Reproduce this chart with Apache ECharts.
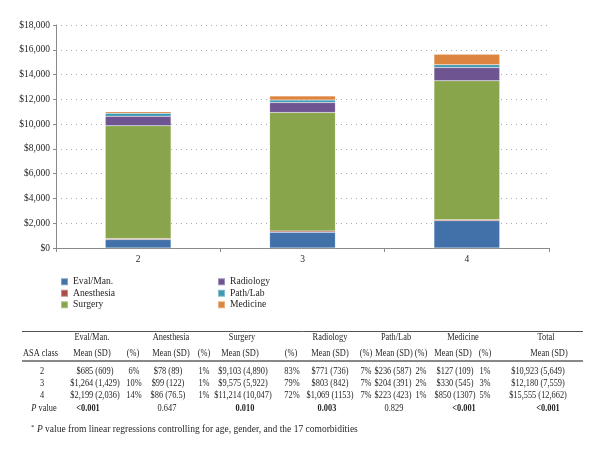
<!DOCTYPE html>
<html>
<head>
<meta charset="utf-8">
<script src="https://cdn.jsdelivr.net/npm/echarts@6/dist/echarts.min.js"></script>
<style>html,body{margin:0;padding:0;background:#fff}#c{width:600px;height:465px}</style>
</head>
<body>
<div id="c"></div>
<script>
// ---- chart data ----
var categories = ['2', '3', '4'];
var evalMan    = [685, 1264, 2199];
var anesthesia = [78, 99, 86];
var surgery    = [9103, 9575, 11214];
var radiology  = [771, 803, 1069];
var pathLab    = [236, 204, 223];
var medicine   = [127, 330, 850];
var yTicks = { min: 0, max: 18000, interval: 2000 };

// ---- table text ----
var tableGroups = ['Eval/Man.', 'Anesthesia', 'Surgery', 'Radiology', 'Path/Lab', 'Medicine', 'Total'];
var tableSub = ['ASA class', 'Mean (SD)', '(%)', 'Mean (SD)', '(%)', 'Mean (SD)', '(%)', 'Mean (SD)', '(%)', 'Mean (SD)', '(%)', 'Mean (SD)', '(%)', 'Mean (SD)'];
var tableRows = [
  ['2', '$685 (609)', '6%', '$78 (89)', '1%', '$9,103 (4,890)', '83%', '$771 (736)', '7%', '$236 (587)', '2%', '$127 (109)', '1%', '$10,923 (5,649)'],
  ['3', '$1,264 (1,429)', '10%', '$99 (122)', '1%', '$9,575 (5,922)', '79%', '$803 (842)', '7%', '$204 (391)', '2%', '$330 (545)', '3%', '$12,180 (7,559)'],
  ['4', '$2,199 (2,036)', '14%', '$86 (76.5)', '1%', '$11,214 (10,047)', '72%', '$1,069 (1153)', '7%', '$223 (423)', '1%', '$850 (1307)', '5%', '$15,555 (12,662)']
];
var pValues = ['<0.001', '0.647', '0.010', '0.003', '0.829', '<0.001', '<0.001'];
var pBold   = [true, false, true, true, false, true, true];

var colors = ['#4270a9', '#a94d48', '#88a54b', '#6e5592', '#3f99b2', '#dc853f'];
var FONT = 'Liberation Serif';
var TXT = '#231f20';

// layout of table columns (x centers)
var groupX = [92, 171, 242, 330, 396, 463, 546];
var subX   = [40.5, 92, 133, 171, 204, 240, 291, 330, 366, 394, 421, 453, 485, 549];
var rowX   = [42, 95, 134, 168, 204, 243, 292, 330, 366, 393, 421, 455, 485, 538];
var pX     = [88, 167, 245, 327, 394, 464, 548];
var rowY   = [371.5, 383.5, 395.5];
var TS = 9.6, SX = 0.87;

var chart = echarts.init(document.getElementById('c'));

function mk(name, data, i) {
  return { name: name, type: 'bar', stack: 'cost', data: data, barWidth: '40%',
    itemStyle: { color: colors[i], borderColor: 'rgba(255,255,255,0.35)', borderWidth: 0.5 } };
}

var graphics = [];
function txt(x, y, s, opt) {
  opt = opt || {};
  graphics.push({ type: 'text', x: x, y: y, scaleX: opt.sx || SX, style: {
    text: s, fontFamily: FONT, fontSize: opt.size || TS, fill: TXT,
    fontWeight: opt.bold ? 'bold' : 'normal', align: opt.align || 'center', verticalAlign: 'middle',
    rich: opt.rich }, silent: true });
}
graphics.push({ type: 'line', shape: { x1: 22, y1: 331.5, x2: 583, y2: 331.5 }, style: { stroke: '#555', lineWidth: 1 } });
graphics.push({ type: 'line', shape: { x1: 22, y1: 361, x2: 583, y2: 361 }, style: { stroke: '#888', lineWidth: 2.2 } });
tableGroups.forEach(function (g, i) { txt(groupX[i], 337.5, g); });
tableSub.forEach(function (g, i) { txt(subX[i], 353, g); });
tableRows.forEach(function (r, ri) { r.forEach(function (c, ci) { txt(rowX[ci], rowY[ri], c); }); });
txt(44, 408.5, '{i|P} value', { rich: { i: { fontStyle: 'italic', fontFamily: FONT, fontSize: TS, fill: TXT } } });
pValues.forEach(function (p, i) { txt(pX[i], 408.5, p, { bold: pBold[i] }); });
txt(31, 429, '{s|*} {i|P} value from linear regressions controlling for age, gender, and the 17 comorbidities',
  { align: 'left', size: 9.5, sx: 1, rich: { s: { fontSize: 7, verticalAlign: 'top', fontFamily: FONT, fill: TXT }, i: { fontStyle: 'italic', fontFamily: FONT, fontSize: 9.5, fill: TXT } } });

var legendBase = { orient: 'vertical', itemWidth: 7, itemHeight: 7, itemGap: 0, padding: 0, icon: 'rect',
  selectedMode: false, textStyle: { fontFamily: FONT, fontSize: 9.6, color: TXT, lineHeight: 11.5, padding: [0, 0, 0, 0] } };

chart.setOption({
  animation: false,
  textStyle: { fontFamily: FONT },
  grid: { left: 56, right: 51, top: 25, bottom: 217, containLabel: false },
  legend: [
    Object.assign({}, legendBase, { left: 60, top: 276, data: ['Eval/Man.', 'Anesthesia', 'Surgery'] }),
    Object.assign({}, legendBase, { left: 217, top: 276, data: ['Radiology', 'Path/Lab', 'Medicine'] })
  ],
  xAxis: { type: 'category', data: categories,
    axisLine: { lineStyle: { color: '#8a8a8a', width: 1 } },
    axisTick: { show: true, length: 4, lineStyle: { color: '#8a8a8a' } },
    axisLabel: { color: TXT, fontFamily: FONT, fontSize: 9.5, margin: 6 } },
  yAxis: { type: 'value', min: yTicks.min, max: yTicks.max, interval: yTicks.interval,
    axisLine: { show: true, lineStyle: { color: '#8a8a8a', width: 1 } },
    axisTick: { show: true, length: 3, lineStyle: { color: '#8a8a8a' } },
    axisLabel: { color: TXT, fontFamily: FONT, fontSize: 9.5, margin: 6,
      formatter: function (v) { return '$' + v.toLocaleString('en-US'); } },
    splitLine: { lineStyle: { color: '#aaaaaa', type: [1, 4], width: 1 } } },
  series: [
    mk('Eval/Man.', evalMan, 0), mk('Anesthesia', anesthesia, 1), mk('Surgery', surgery, 2),
    mk('Radiology', radiology, 3), mk('Path/Lab', pathLab, 4), mk('Medicine', medicine, 5)
  ],
  graphic: graphics
});
</script>
</body>
</html>
